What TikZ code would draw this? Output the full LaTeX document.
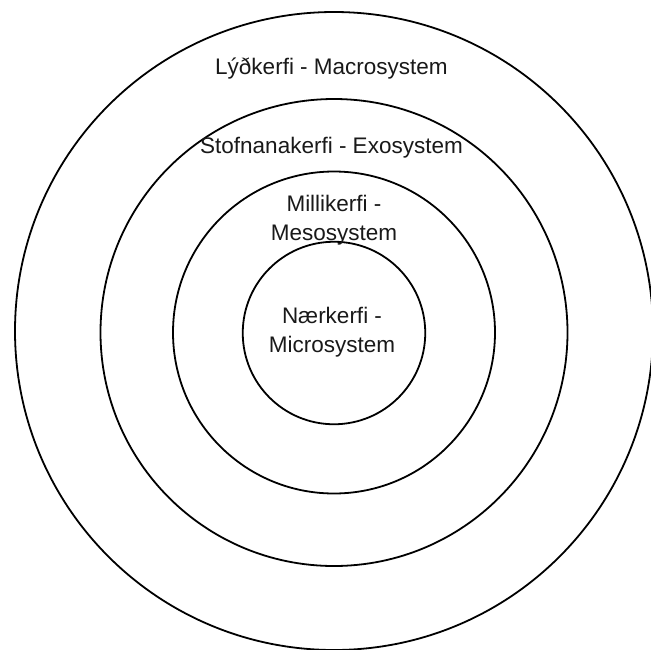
\documentclass[tikz,border=0pt]{standalone}
\usepackage{fontspec}
\setmainfont{Liberation Sans}
\begin{document}
\begin{tikzpicture}[x=1pt,y=-1pt,
  ring/.style={draw=black,circle,line width=1.8pt,inner sep=0pt,outer sep=0pt},
  lbl/.style={inner sep=0pt,align=center,font=\fontsize{22.5}{29}\selectfont,text=black!90}]
\useasboundingbox (0,0) rectangle (651,649);
\fill[white] (0,0) rectangle (651,649);
\node[ring,minimum size=638pt] (macro) at (334,331) {};
\node[ring,minimum size=467pt] (exo) at (334,332.5) {};
\node[ring,minimum size=322pt] (meso) at (334,332.5) {};
\node[ring,minimum size=182.5pt] (micro) at (334,333) {};
\node[lbl] (tmacro) at (331.5,69) {Lýðkerfi - Macrosystem};
\node[lbl] (texo) at (331.5,148) {Stofnanakerfi - Exosystem};
\node[lbl] (tmeso) at (334,220) {Millikerfi -\\Mesosystem};
\node[lbl] (tmicro) at (332,332) {Nærkerfi -\\Microsystem};
\end{tikzpicture}
\end{document}
